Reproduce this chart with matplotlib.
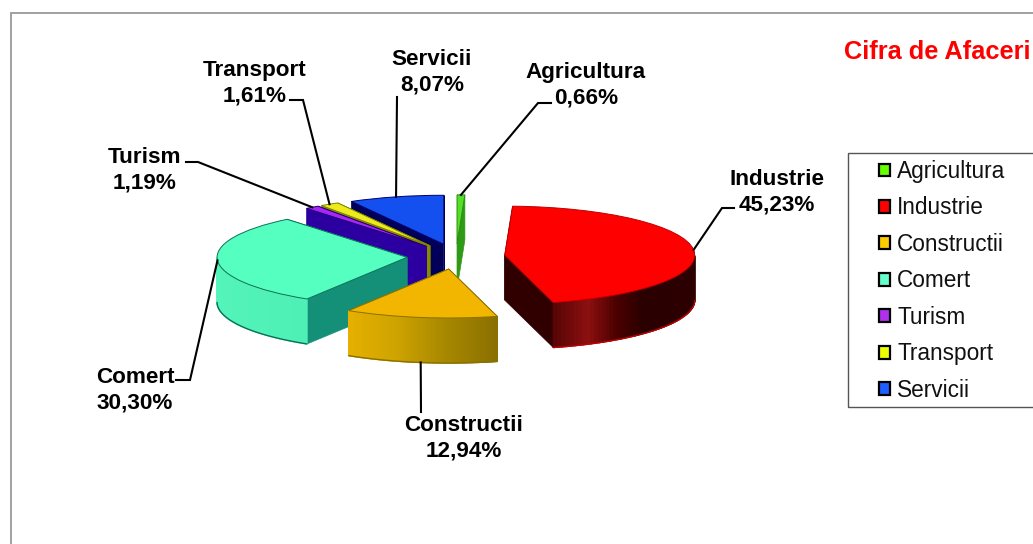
import numpy as np
import matplotlib
matplotlib.use("Agg")
import matplotlib.pyplot as plt
from matplotlib.colors import LinearSegmentedColormap
from matplotlib.patches import Patch, Rectangle

plt.rcParams['font.family'] = ['Liberation Sans', 'DejaVu Sans']

# ---- data ----
categories = ["Agricultura", "Industrie", "Constructii", "Comert", "Turism", "Transport", "Servicii"]
shares = [0.66, 45.23, 12.94, 30.30, 1.19, 1.61, 8.07]
title_text = "Cifra de Afaceri"

# ---- styles ----
top_colors = ["#55e028", "#ff0000", "#f2b600", "#55ffc0", "#a526f5", "#ecec1c", "#1450f0"]
legend_colors = ["#66ff00", "#ff0000", "#ffcc00", "#66ffcc", "#b030f0", "#eeff00", "#1f5fff"]
wall_stops = [["#2f9a18", "#2f9a18"],
              ["#5a0505", "#8c1010", "#4a0000", "#2a0000", "#2a0000", "#2c0000", "#2c0000", "#300000"],
              ["#e6b000", "#cfa400", "#a88800", "#8a7000"],
              ["#55f5bc", "#4ff0b5"],
              ["#2c00a0", "#2c00a0"],
              ["#8a8a00", "#8a8a00"],
              ["#000060", "#000060"]]
radial_colors = ["#2f9a18", "#300000", "#8a7000", "#149078", "#2c00a0", "#8a8a00", "#000058"]
edge_colors = ["#2a8a10", "#c00000", "#8a7000", "#0c7058", "#200070", "#808000", "#000070"]
paint_order = [6, 5, 4, 0, 3, 1, 2]

W, H = 1033, 544
CX, CY, RX, RY = 456.0, 256.5, 190.0, 49.0
DEPTH = 45.0 / RY
EXPLODE = 0.258

fig = plt.figure(figsize=(W / 100, H / 100), dpi=100, facecolor="white")
ax = fig.add_axes([0, 0, 1, 1])


def px(x, y):
    """Layout helper: figure pixels (from top-left) to axes data units."""
    return (x - CX) / RX, (CY - y) / RY


wedges, _ = ax.pie(shares, startangle=90, counterclock=False, explode=[EXPLODE] * len(shares),
                   colors=top_colors, radius=1.0, wedgeprops=dict(linewidth=0.7))
ax.set_aspect("auto")
ax.set_xlim(px(0, 0)[0], px(W, 0)[0])
ax.set_ylim(px(0, H)[1], px(0, 0)[1])
ax.set_axis_off()

# 3-D body of each slice, derived from the pie's own wedges
for z, i in enumerate(paint_order):
    w = wedges[i]
    cx, cy = w.center
    t1, t2 = w.theta1, w.theta2
    base = 2 + 3 * z
    # radial faces
    for t in (t1, t2):
        ex, ey = cx + w.r * np.cos(np.radians(t)), cy + w.r * np.sin(np.radians(t))
        ax.fill([cx, ex, ex, cx], [cy, ey, ey - DEPTH, cy - DEPTH], color=radial_colors[i],
                lw=0.5, zorder=base)
    # outer wall, lower half only
    th = np.linspace(t1, t2, 121)
    mids = (th[:-1] + th[1:]) / 2
    vis = np.sin(np.radians(mids)) < 0
    if vis.any():
        cmap = LinearSegmentedColormap.from_list("wall", wall_stops[i])
        idx = np.where(vis)[0]
        for j, k in enumerate(idx):
            a = np.radians(th[k:k + 2])
            xs = cx + w.r * np.cos(a)
            ys = cy + w.r * np.sin(a)
            col = cmap(j / max(len(idx) - 1, 1))
            ax.fill([xs[0], xs[1], xs[1], xs[0]], [ys[0], ys[1], ys[1] - DEPTH, ys[0] - DEPTH],
                    color=col, lw=1.0, zorder=base + 1)
        a = np.radians(np.r_[th[idx[0]], th[idx + 1]])
        ax.plot(cx + w.r * np.cos(a), cy + w.r * np.sin(a) - DEPTH, color=edge_colors[i],
                lw=1.0, zorder=base + 1, solid_capstyle="round")
    w.set_zorder(base + 2)
    w.set_edgecolor(edge_colors[i])

# label layout in figure pixels: text centre, elbow start, elbow end
label_layout = {
    "Agricultura": ((586, 85), (551, 103), (538, 103)),
    "Industrie": ((777, 192), (734, 208), (722, 208)),
    "Constructii": ((464, 438), (421, 412), (421, 412)),
    "Comert": ((135, 390), (176, 380), (190, 380)),
    "Turism": ((145, 170), (186, 162), (198, 162)),
    "Transport": ((255, 83), (290, 100), (303, 100)),
    "Servicii": ((432, 72), (397, 97), (397, 97)),
}
for i, name in enumerate(categories):
    w = wedges[i]
    mid = np.radians((w.theta1 + w.theta2) / 2)
    ax_x = w.center[0] + w.r * np.cos(mid)
    ax_y = w.center[1] + w.r * np.sin(mid)
    if np.sin(mid) < -0.9:
        ax_y -= DEPTH
    (tx, ty), p0, p1 = label_layout[name]
    q0, q1 = px(*p0), px(*p1)
    ax.plot([q0[0], q1[0], ax_x], [q0[1], q1[1], ax_y], color="black", lw=1.5, zorder=60,
            solid_joinstyle="miter")
    ax.text(*px(tx, ty), f"{name}\n{shares[i]:.2f}%".replace(".", ","), ha="center", va="center",
            fontsize=16.2, fontweight="bold", color="black", linespacing=1.3, zorder=61)

ax.text(*px(1031, 52), title_text, ha="right", va="center", fontsize=18.3, fontweight="bold",
        color="#ff0000", zorder=61)

# chart frame and legend box (both run off the figure)
fig.add_artist(Rectangle((11 / W, -0.1), 1.1, 1.1 - 13 / H + 0.0, transform=fig.transFigure,
                         fill=False, edgecolor="#9a9a9a", lw=1.3, clip_on=True))
fig.add_artist(Rectangle((848 / W, 1 - 407 / H), 0.3, 254 / H, transform=fig.transFigure,
                         fill=False, edgecolor="#555555", lw=1.0))

handles = [Patch(facecolor=c, edgecolor="black", linewidth=1.6) for c in legend_colors]
FS = 16.3
fig.legend(handles, categories, loc="upper left", bbox_to_anchor=(879 / W, 1 - 160 / H),
           bbox_transform=fig.transFigure, frameon=False, fontsize=FS, borderpad=0, borderaxespad=0,
           handlelength=0.5, handleheight=0.5, handletextpad=0.3, labelspacing=0.595,
           labelcolor="#111111")

fig.savefig("out.png", dpi=100, facecolor="white")
